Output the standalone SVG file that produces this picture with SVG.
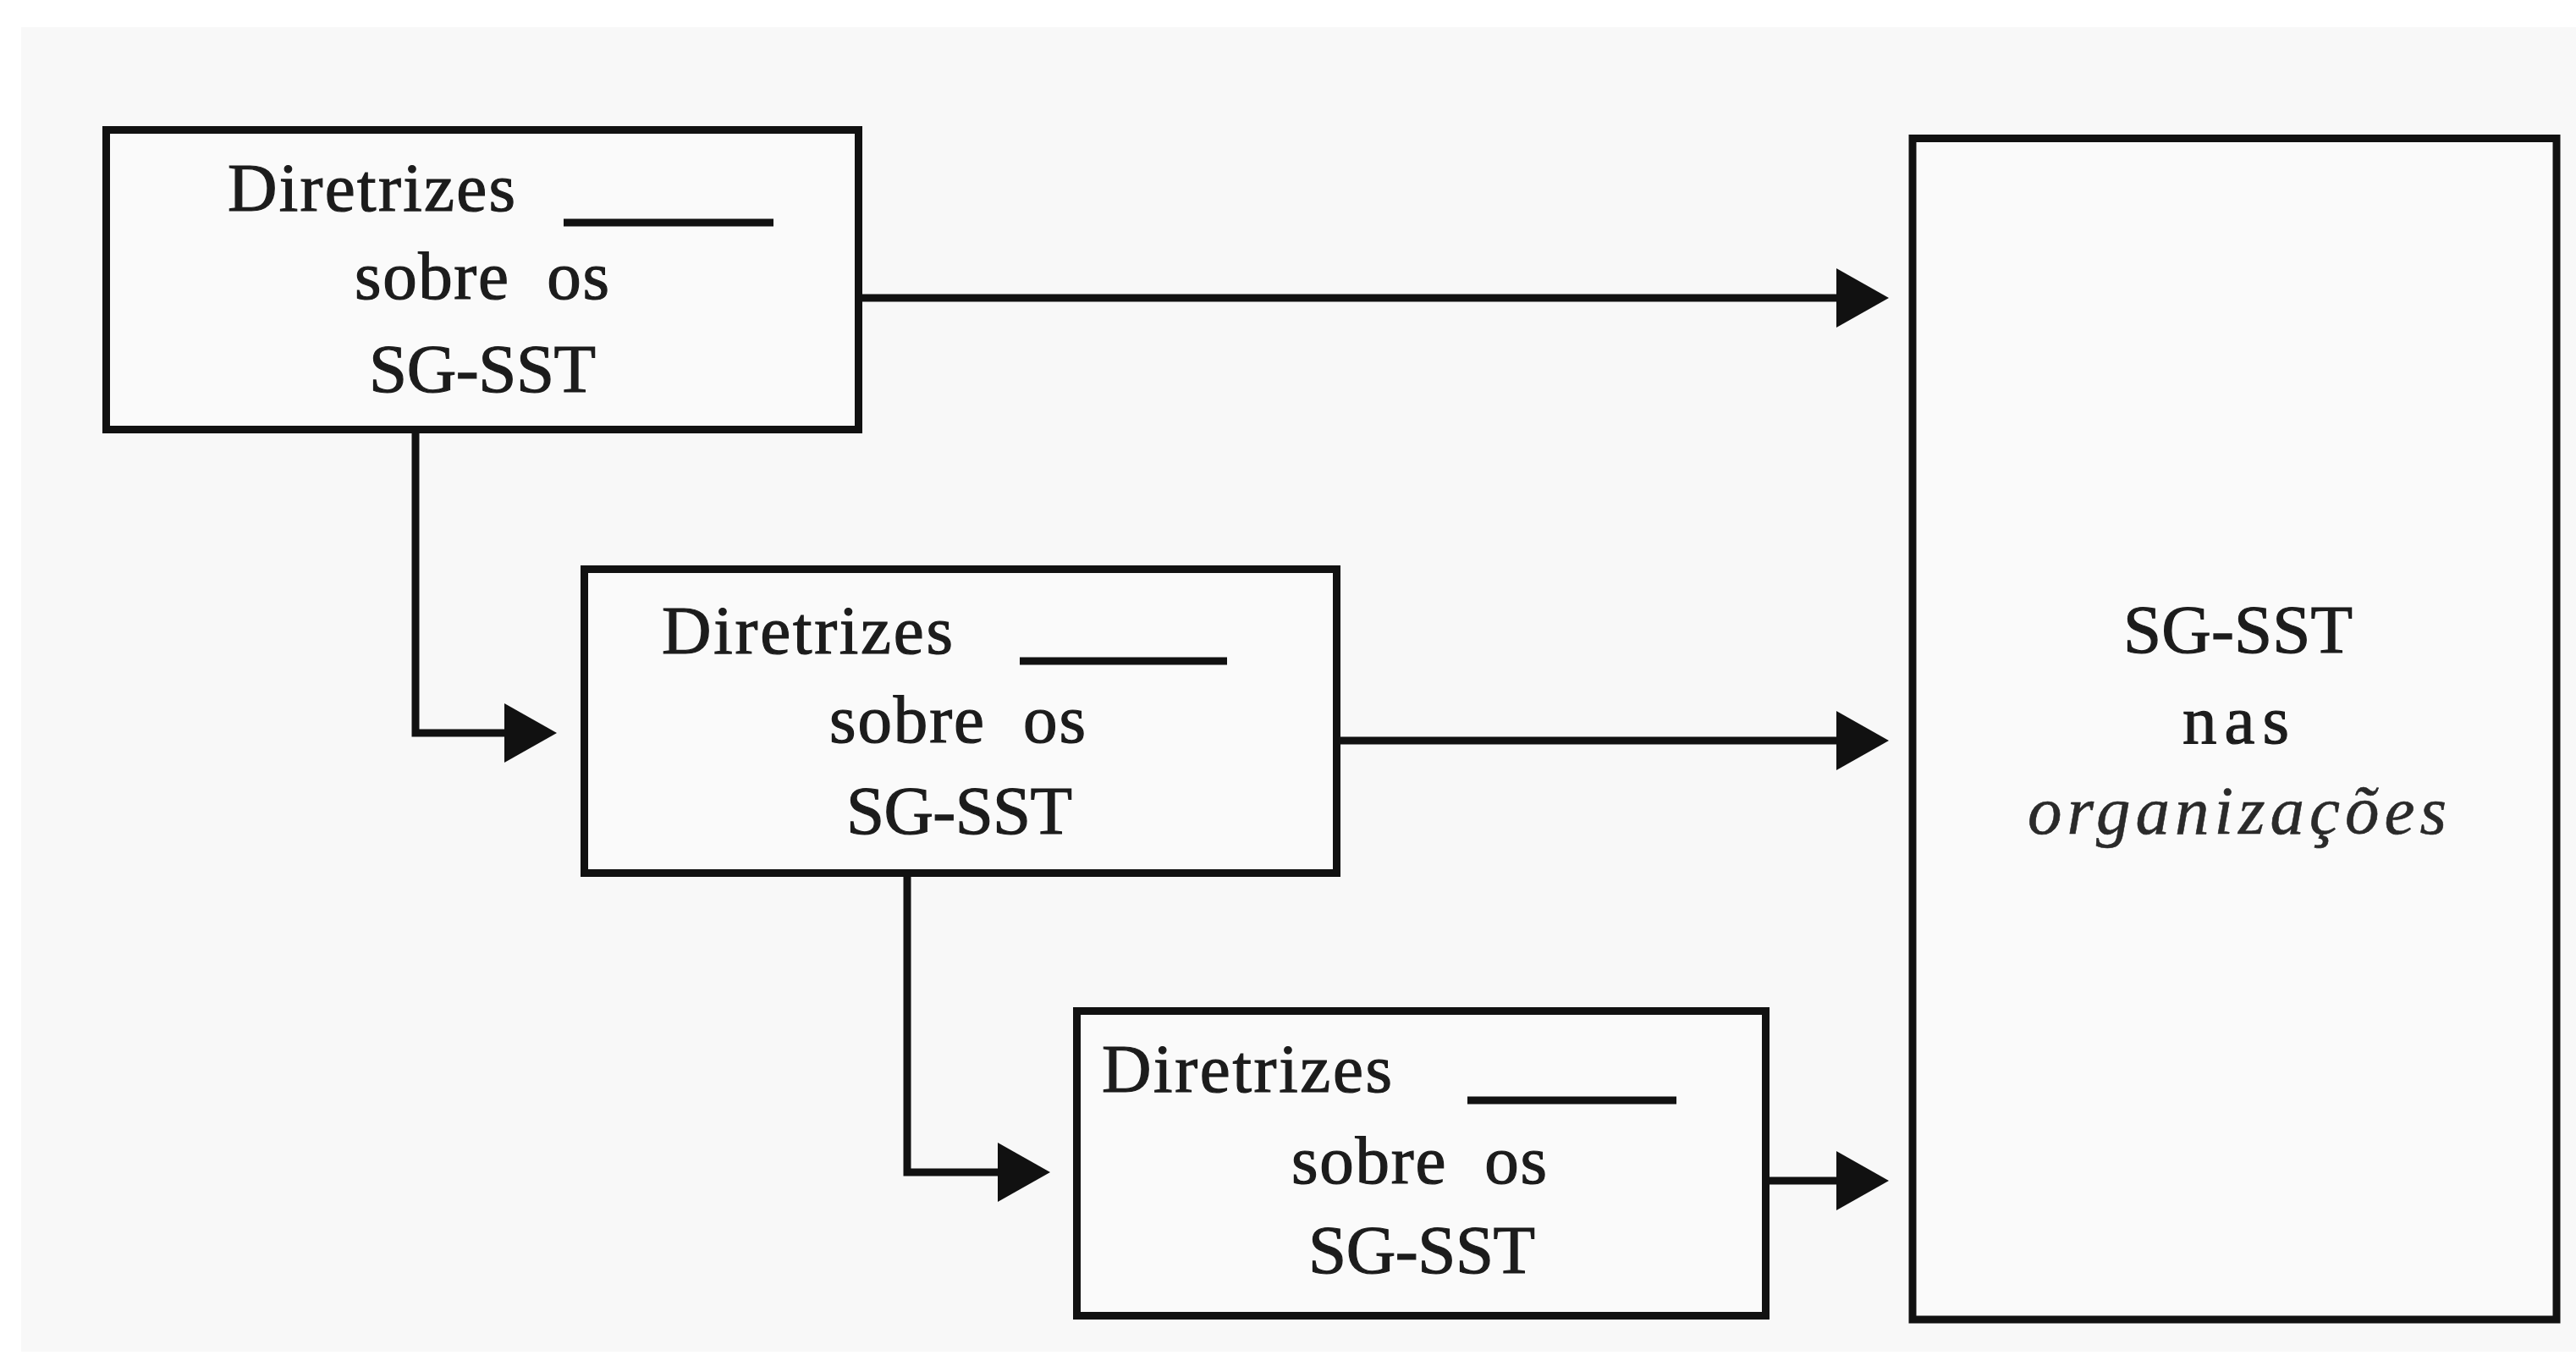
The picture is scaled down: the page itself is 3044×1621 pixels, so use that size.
<svg xmlns="http://www.w3.org/2000/svg" width="3044" height="1621" viewBox="0 0 3044 1621">
<style>
.box{fill:#fafafa;stroke:#111;stroke-width:9}
.blank{stroke:#111;stroke-width:9}
.conn{fill:none;stroke:#111;stroke-width:9}
.t{font-family:"Liberation Serif","Times New Roman",serif;font-size:81px;fill:#1c1c1c;stroke:#1c1c1c;stroke-width:1.2}
.ws{word-spacing:22px}
.it{font-style:italic;fill:#2a2a2a;stroke:#2a2a2a;stroke-width:0.6}
</style>
<defs>
<marker id="ah" markerUnits="userSpaceOnUse" markerWidth="62" markerHeight="70" viewBox="0 0 62 70" refX="10" refY="35" orient="auto">
<path d="M0,0 L62,35 L0,70 Z" fill="#111"/>
</marker>
</defs>
<rect x="0" y="0" width="3044" height="1621" fill="#ffffff"/>
<rect x="25" y="32" width="3019" height="1565" fill="#f8f8f8"/>
<g id="connectors">
<path class="conn" d="M1019,352 H2180" marker-end="url(#ah)"/>
<path class="conn" d="M1584,875 H2180" marker-end="url(#ah)"/>
<path class="conn" d="M2091,1395 H2180" marker-end="url(#ah)"/>
<path class="conn" d="M491,512 V866 H606" marker-end="url(#ah)"/>
<path class="conn" d="M1072,1036 V1385 H1189" marker-end="url(#ah)"/>
</g>
<g id="node-diretrizes-1">
<rect class="box" x="125.5" y="153.5" width="889" height="354"/>
<text class="t" x="269" y="249" textLength="340">Diretrizes</text>
<line class="blank" x1="666" y1="263" x2="914" y2="263"/>
<text class="t ws" x="419" y="353" textLength="301">sobre os</text>
<text class="t" x="436" y="463" textLength="268">SG-SST</text>
</g>
<g id="node-diretrizes-2">
<rect class="box" x="690.5" y="672.5" width="889" height="359"/>
<text class="t" x="782" y="772" textLength="344">Diretrizes</text>
<line class="blank" x1="1205" y1="781" x2="1450" y2="781"/>
<text class="t ws" x="980" y="877" textLength="303">sobre os</text>
<text class="t" x="1000" y="985" textLength="267">SG-SST</text>
</g>
<g id="node-diretrizes-3">
<rect class="box" x="1272.5" y="1194.5" width="814" height="360"/>
<text class="t" x="1302" y="1290" textLength="343">Diretrizes</text>
<line class="blank" x1="1734" y1="1300" x2="1981" y2="1300"/>
<text class="t ws" x="1526" y="1398" textLength="302">sobre os</text>
<text class="t" x="1546" y="1504" textLength="268">SG-SST</text>
</g>
<g id="node-sgsst-organizacoes">
<rect class="box" x="2260" y="163.5" width="761" height="1395.5"/>
<text class="t" x="2509" y="771" textLength="271">SG-SST</text>
<text class="t" x="2579" y="878" textLength="126">nas</text>
<text class="t it" x="2396" y="985" textLength="495">organizações</text>
</g>
</svg>
